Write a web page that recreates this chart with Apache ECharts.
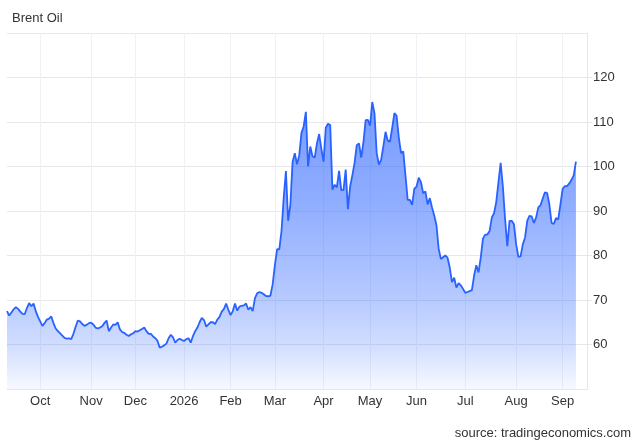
<!DOCTYPE html>
<html>
<head>
<meta charset="utf-8">
<script src="https://cdn.jsdelivr.net/npm/echarts@6/dist/echarts.min.js"></script>
<style>
html,body{margin:0;padding:0;background:#fff;}
#chart{width:640px;height:444px;}
</style>
</head>
<body>
<div id="chart"></div>
<script>
// Trading-day axis (weekdays, market holidays skipped)
const startDate = '2025-09-10';
const endDate = '2026-09-16';
const holidays = ['2025-12-25', '2026-01-01', '2026-04-03'];
const monthTickLabels = ['Jan', 'Feb', 'Mar', 'Apr', 'May', 'Jun', 'Jul', 'Aug', 'Sep', 'Oct', 'Nov', 'Dec'];

// Brent daily closes (USD/bbl), one value per trading day
const sep2025 = [67.5, 66.5, 67.2, 67.9, 68.4, 68.0, 67.4, 66.9, 66.8, 68.2, 69.3, 68.6, 69.2, 67.5, 66.2];
const oct2025 = [65.2, 64.2, 64.8, 65.6, 65.8, 66.3, 64.8, 63.6, 63.0, 62.5, 62.0, 61.5, 61.3, 61.4, 61.2, 62.4, 64.0, 65.4, 65.2, 64.6, 64.2, 64.4, 64.8];
const nov2025 = [64.9, 64.5, 63.8, 63.6, 63.8, 64.1, 64.8, 65.4, 63.0, 63.8, 64.5, 64.4, 65.0, 63.4, 62.8, 62.6, 62.2, 61.9, 62.3, 62.5];
const dec2025 = [63.0, 62.9, 63.2, 63.5, 63.8, 63.0, 62.4, 62.4, 61.8, 61.4, 60.8, 59.3, 59.5, 59.8, 60.2, 61.4, 62.2, 61.6, 60.4, 61.0, 61.3, 61.0];
const jan2026 = [60.8, 61.2, 61.4, 60.4, 61.9, 63.0, 63.8, 65.0, 66.0, 65.5, 64.0, 64.5, 65.0, 65.0, 64.6, 65.6, 66.2, 67.4, 68.0, 69.2, 67.8];
const feb2026 = [66.6, 67.5, 69.2, 67.6, 68.5, 68.7, 68.8, 69.2, 67.8, 68.4, 67.5, 70.4, 71.5, 71.8, 71.6, 71.3, 70.9, 70.8, 71.0, 73.5];
const mar2026 = [77.8, 81.4, 81.4, 85.5, 93.0, 99.0, 87.8, 91.4, 101.0, 103.0, 100.5, 102.5, 107.5, 109.0, 112.3, 100.0, 104.5, 102.3, 102.0, 105.2, 107.3, 104.0];
const apr2026 = [101.1, 108.7, 109.6, 109.3, 94.8, 95.9, 95.3, 99.0, 94.7, 94.7, 99.3, 90.4, 95.5, 98.0, 100.8, 104.8, 105.2, 102.0, 105.4, 110.4, 110.5];
const may2026 = [109.2, 114.5, 112.0, 103.0, 100.4, 101.5, 104.5, 107.8, 105.8, 105.6, 108.7, 112.0, 111.4, 106.5, 103.0, 103.4, 98.0, 92.5, 92.5, 91.4, 95.0];
const jun2026 = [95.5, 97.5, 96.5, 94.0, 94.4, 91.5, 92.9, 90.8, 89.0, 86.8, 81.5, 79.2, 79.6, 80.0, 79.5, 77.3, 74.0, 75.0, 72.8, 73.8, 73.3, 72.5];
const jul2026 = [71.6, 71.8, 72.0, 72.2, 75.5, 77.8, 76.2, 79.5, 83.8, 84.7, 84.7, 85.5, 88.5, 89.5, 92.0, 96.5, 100.8, 95.5, 88.2, 82.1, 87.8, 87.8, 87.0];
const aug2026 = [82.5, 79.7, 79.8, 82.5, 84.0, 87.8, 88.9, 88.8, 87.3, 88.5, 90.8, 91.3, 92.8, 94.2, 94.0, 91.5, 87.3, 87.1, 88.4, 88.1, 91.5];
const sep2026 = [95.0, 95.6, 95.6, 96.2, 97.0, 98.0, 101.1];

const prices = [].concat(sep2025, oct2025, nov2025, dec2025, jan2026, feb2026, mar2026,
  apr2026, may2026, jun2026, jul2026, aug2026, sep2026);

// Build category dates
const dates = [];
{
  const d = new Date(startDate + 'T00:00:00Z');
  const end = new Date(endDate + 'T00:00:00Z');
  while (d <= end) {
    const dow = d.getUTCDay();
    const iso = d.toISOString().slice(0, 10);
    if (dow !== 0 && dow !== 6 && holidays.indexOf(iso) < 0) dates.push(iso);
    d.setUTCDate(d.getUTCDate() + 1);
  }
}
const monthStart = dates.map((s, i) => i > 0 && s.slice(0, 7) !== dates[i - 1].slice(0, 7));
function tickText(s) {
  const m = parseInt(s.slice(5, 7), 10);
  return m === 1 ? s.slice(0, 4) : monthTickLabels[m - 1];
}

const chart = echarts.init(document.getElementById('chart'));
const font = '"Helvetica Neue", Helvetica, Arial, "Liberation Sans", sans-serif';
chart.setOption({
  animation: false,
  backgroundColor: '#ffffff',
  title: [
    { text: 'Brent Oil', left: 7, top: 7,
      textStyle: { fontFamily: font, fontSize: 13, fontWeight: 'normal', color: '#333333' } },
    { text: 'source: tradingeconomics.com', right: 4, top: 422,
      textStyle: { fontFamily: font, fontSize: 13, fontWeight: 'normal', color: '#333333' } }
  ],
  grid: { left: 7, right: 53, top: 33, bottom: 55 },
  xAxis: {
    type: 'category',
    data: dates,
    boundaryGap: false,
    axisLine: { show: true, lineStyle: { color: '#e6e6e6', width: 1 } },
    axisTick: { show: false },
    axisLabel: {
      interval: (i) => monthStart[i],
      formatter: (v) => tickText(v),
      color: '#333333', fontFamily: font, fontSize: 13, margin: 6
    },
    splitLine: {
      show: true,
      interval: (i) => monthStart[i],
      lineStyle: { color: '#eef1f5', width: 1 }
    }
  },
  yAxis: {
    type: 'value',
    position: 'right',
    min: 50, max: 130, interval: 10,
    axisLine: { show: true, lineStyle: { color: '#e6e6e6' } },
    axisTick: { show: true, length: 5, lineStyle: { color: '#e6e6e6' } },
    axisLabel: {
      showMinLabel: false, showMaxLabel: false,
      color: '#333333', fontFamily: font, fontSize: 13, margin: 6
    },
    splitLine: { show: true, lineStyle: { color: '#e8e8e8', width: 1 } }
  },
  series: [{
    type: 'line',
    data: prices,
    showSymbol: false,
    smooth: false,
    lineStyle: { color: '#2962ff', width: 1.8 },
    itemStyle: { color: '#2962ff' },
    areaStyle: {
      color: new echarts.graphic.LinearGradient(0, 0, 0, 1, [
        { offset: 0, color: 'rgba(41,98,255,0.9)' },
        { offset: 0.34, color: 'rgba(41,98,255,0.75)' },
        { offset: 0.69, color: 'rgba(41,98,255,0.48)' },
        { offset: 0.85, color: 'rgba(41,98,255,0.3)' },
        { offset: 1, color: 'rgba(41,98,255,0.05)' }
      ])
    }
  }]
});
</script>
</body>
</html>
